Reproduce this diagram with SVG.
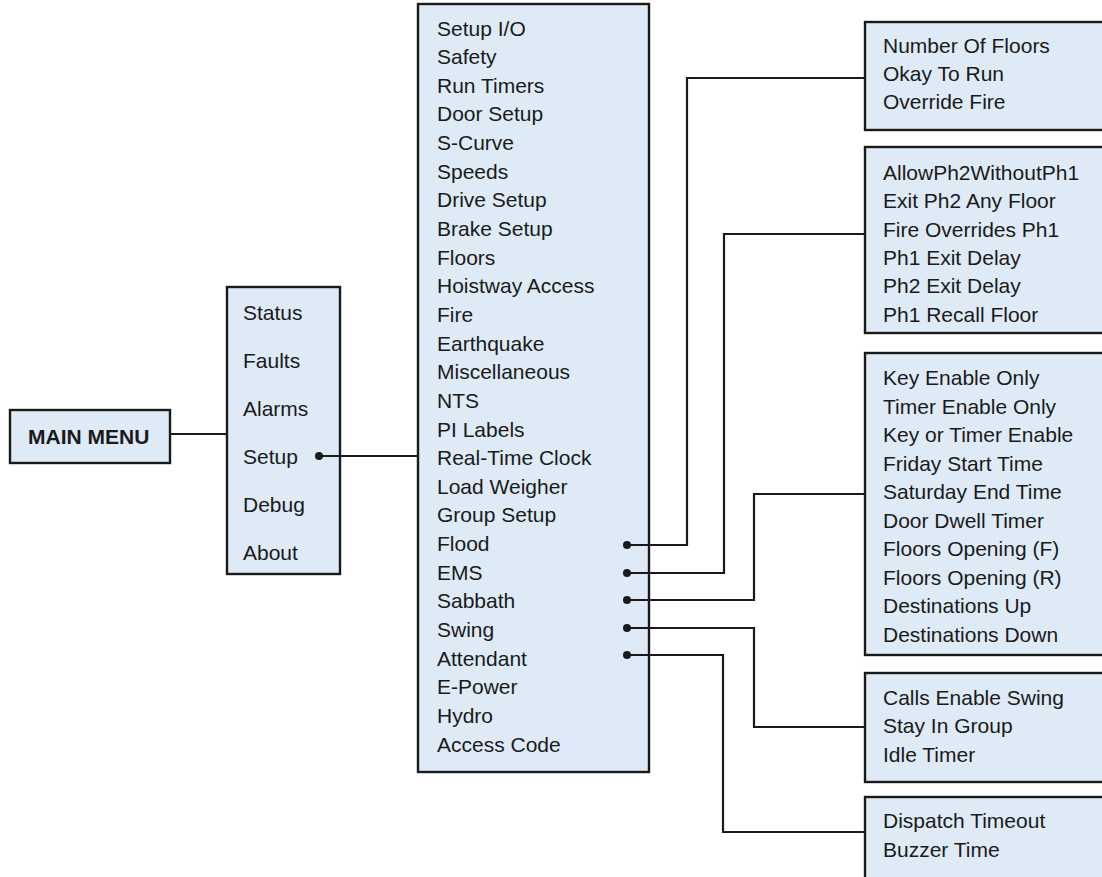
<svg xmlns="http://www.w3.org/2000/svg" width="1102" height="877" viewBox="0 0 1102 877">
<style>
.box{fill:#DEEAF6;stroke:#1a1a1a;stroke-width:2.4}
.t{font-family:"Liberation Sans",Arial,sans-serif;font-size:21px;fill:#1a1a1a}
.b{font-weight:bold}
.c{fill:none;stroke:#1a1a1a;stroke-width:2.2}
.d{fill:#1a1a1a}
</style>
<rect width="1102" height="877" fill="#ffffff"/>
<g id="main-menu">
<rect class="box" x="10" y="410" width="160" height="53"/>
<text class="t b" x="28" y="444">MAIN MENU</text>
</g>
<g id="top-menu">
<rect class="box" x="227" y="287" width="113" height="287"/>
<text class="t" x="243" y="319.5">Status</text>
<text class="t" x="243" y="367.5">Faults</text>
<text class="t" x="243" y="415.5">Alarms</text>
<text class="t" x="243" y="463.5">Setup</text>
<text class="t" x="243" y="511.5">Debug</text>
<text class="t" x="243" y="559.5">About</text>
</g>
<g id="setup-menu">
<rect class="box" x="418" y="4" width="231" height="768"/>
<text class="t" x="437" y="35.5">Setup I/O</text>
<text class="t" x="437" y="64.1">Safety</text>
<text class="t" x="437" y="92.8">Run Timers</text>
<text class="t" x="437" y="121.4">Door Setup</text>
<text class="t" x="437" y="150.1">S-Curve</text>
<text class="t" x="437" y="178.7">Speeds</text>
<text class="t" x="437" y="207.3">Drive Setup</text>
<text class="t" x="437" y="236">Brake Setup</text>
<text class="t" x="437" y="264.6">Floors</text>
<text class="t" x="437" y="293.3">Hoistway Access</text>
<text class="t" x="437" y="321.9">Fire</text>
<text class="t" x="437" y="350.5">Earthquake</text>
<text class="t" x="437" y="379.2">Miscellaneous</text>
<text class="t" x="437" y="407.8">NTS</text>
<text class="t" x="437" y="436.5">PI Labels</text>
<text class="t" x="437" y="465.1">Real-Time Clock</text>
<text class="t" x="437" y="493.7">Load Weigher</text>
<text class="t" x="437" y="522.4">Group Setup</text>
<text class="t" x="437" y="551">Flood</text>
<text class="t" x="437" y="579.7">EMS</text>
<text class="t" x="437" y="608.3">Sabbath</text>
<text class="t" x="437" y="636.9">Swing</text>
<text class="t" x="437" y="665.6">Attendant</text>
<text class="t" x="437" y="694.2">E-Power</text>
<text class="t" x="437" y="722.9">Hydro</text>
<text class="t" x="437" y="751.5">Access Code</text>
</g>
<g id="flood-menu">
<rect class="box" x="865" y="22" width="250" height="108"/>
<text class="t" x="883" y="52.5">Number Of Floors</text>
<text class="t" x="883" y="80.5">Okay To Run</text>
<text class="t" x="883" y="108.5">Override Fire</text>
</g>
<g id="ems-menu">
<rect class="box" x="865" y="147" width="250" height="186"/>
<text class="t" x="883" y="180">AllowPh2WithoutPh1</text>
<text class="t" x="883" y="208.3">Exit Ph2 Any Floor</text>
<text class="t" x="883" y="236.6">Fire Overrides Ph1</text>
<text class="t" x="883" y="265">Ph1 Exit Delay</text>
<text class="t" x="883" y="293.3">Ph2 Exit Delay</text>
<text class="t" x="883" y="321.6">Ph1 Recall Floor</text>
</g>
<g id="sabbath-menu">
<rect class="box" x="865" y="353" width="250" height="302"/>
<text class="t" x="883" y="385">Key Enable Only</text>
<text class="t" x="883" y="413.5">Timer Enable Only</text>
<text class="t" x="883" y="442">Key or Timer Enable</text>
<text class="t" x="883" y="470.5">Friday Start Time</text>
<text class="t" x="883" y="499">Saturday End Time</text>
<text class="t" x="883" y="527.5">Door Dwell Timer</text>
<text class="t" x="883" y="556">Floors Opening (F)</text>
<text class="t" x="883" y="584.5">Floors Opening (R)</text>
<text class="t" x="883" y="613">Destinations Up</text>
<text class="t" x="883" y="641.5">Destinations Down</text>
</g>
<g id="swing-menu">
<rect class="box" x="865" y="673" width="250" height="109"/>
<text class="t" x="883" y="705">Calls Enable Swing</text>
<text class="t" x="883" y="733.3">Stay In Group</text>
<text class="t" x="883" y="761.7">Idle Timer</text>
</g>
<g id="attendant-menu">
<rect class="box" x="865" y="797" width="250" height="100"/>
<text class="t" x="883" y="828.3">Dispatch Timeout</text>
<text class="t" x="883" y="856.7">Buzzer Time</text>
</g>
<g id="connectors">
<path class="c" d="M170 434H227"/>
<path class="c" d="M319 456H418"/>
<path class="c" d="M627 545H687V78H865"/>
<path class="c" d="M627 573H724V234H865"/>
<path class="c" d="M627 600H754V494H865"/>
<path class="c" d="M627 628H754V727H865"/>
<path class="c" d="M627 655H723V832H865"/>
<circle class="d" cx="319" cy="456" r="4"/>
<circle class="d" cx="627" cy="545" r="4"/>
<circle class="d" cx="627" cy="573" r="4"/>
<circle class="d" cx="627" cy="600" r="4"/>
<circle class="d" cx="627" cy="628" r="4"/>
<circle class="d" cx="627" cy="655" r="4"/>
</g>
</svg>
